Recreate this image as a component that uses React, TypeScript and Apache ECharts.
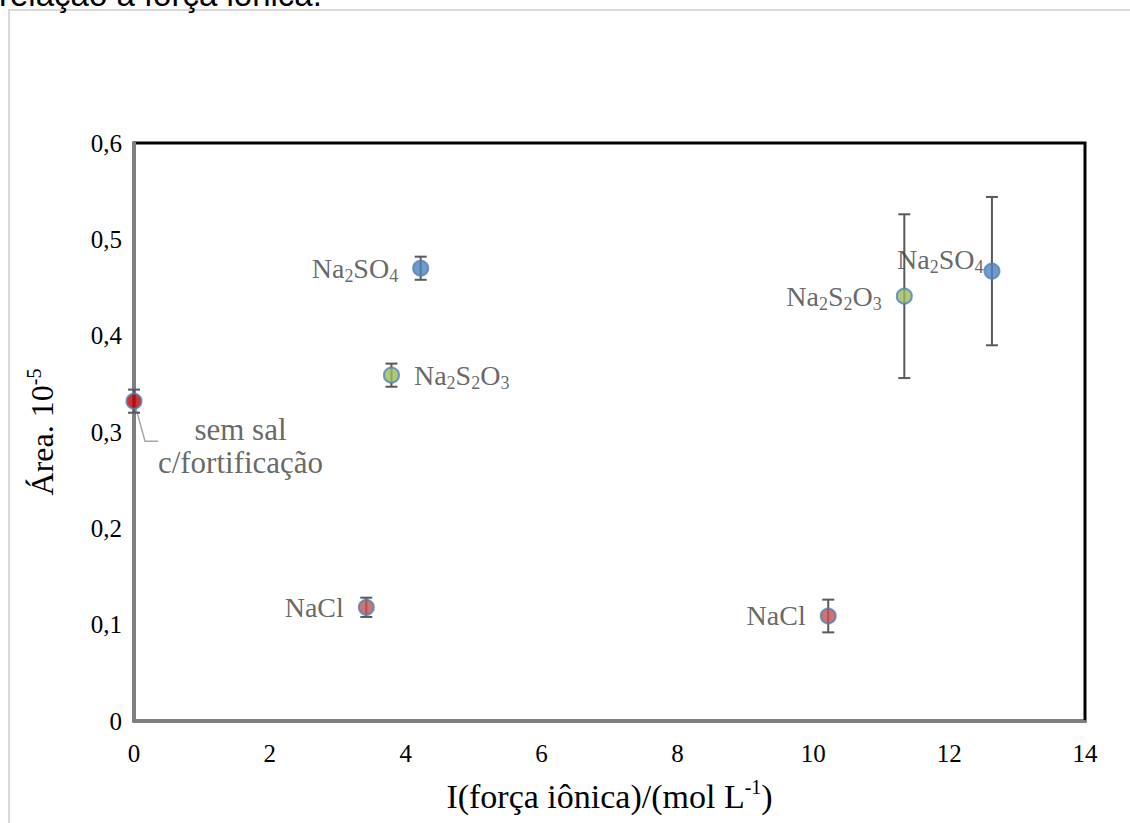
import React, { useEffect, useRef } from "react";
import * as echarts from "echarts";

const xTicks = [0, 2, 4, 6, 8, 10, 12, 14];
const yTicks = [0, 0.1, 0.2, 0.3, 0.4, 0.5, 0.6];

// [ionic strength, area, error]
const semSal = [[0, 0.332, 0.012]];
const naclPts = [[3.42, 0.118, 0.01], [10.22, 0.109, 0.017]];
const so4Pts = [[4.22, 0.47, 0.012], [12.63, 0.467, 0.077]];
const s2o3Pts = [[3.79, 0.359, 0.012], [11.34, 0.441, 0.085]];

const naclLabels = ["NaCl", "NaCl"];
const so4Labels = ["Na{s|2}SO{s|4}", "Na{s|2}SO{s|4}"];
const s2o3Labels = ["Na{s|2}S{s|2}O{s|3}", "Na{s|2}S{s|2}O{s|3}"];
const semSalLabel = "sem sal\nc/fortificação";

const serif = "Liberation Serif";
const labelColor = "#404040";
const axisTextColor = "#000";

const richSub = {
  s: { fontSize: 18, lineHeight: 16, verticalAlign: "bottom", fontFamily: serif, color: labelColor },
};

function labelFor(text: string, position: string, extra: any = {}) {
  return {
    show: true,
    position,
    distance: 14,
    formatter: text,
    fontSize: 28,
    lineHeight: 34,
    fontFamily: serif,
    color: labelColor,
    rich: richSub,
    ...extra,
  };
}

export default function App() {
  const ref = useRef<HTMLDivElement>(null);
  useEffect(() => {
    const chart = echarts.init(ref.current!, null, { renderer: "svg" });
    const allPts = [...semSal, ...naclPts, ...so4Pts, ...s2o3Pts];
    const errorSeries = {
      type: "custom",
      z: 2,
      silent: true,
      data: allPts,
      renderItem: (params: any, api: any) => {
        const x = api.value(0);
        const y = api.value(1);
        const e = api.value(2);
        const top = api.coord([x, y + e]);
        const bot = api.coord([x, y - e]);
        const w = 6;
        const st = { stroke: "#595959", lineWidth: 2 };
        return {
          type: "group",
          children: [
            { type: "line", shape: { x1: top[0], y1: top[1], x2: bot[0], y2: bot[1] }, style: st },
            { type: "line", shape: { x1: top[0] - w, y1: top[1], x2: top[0] + w, y2: top[1] }, style: st },
            { type: "line", shape: { x1: bot[0] - w, y1: bot[1], x2: bot[0] + w, y2: bot[1] }, style: st },
          ],
        };
      },
    };
    const leaderSeries = {
      type: "custom",
      z: 1,
      silent: true,
      data: semSal,
      renderItem: (params: any, api: any) => {
        const p = api.coord([api.value(0), api.value(1)]);
        return {
          type: "polyline",
          shape: { points: [[p[0], p[1]], [p[0] + 11, p[1] + 40], [p[0] + 24, p[1] + 40]] },
          style: { stroke: "#a6a6a6", lineWidth: 1.5, fill: "none" },
        };
      },
    };
    const markerBase = { type: "scatter", symbol: "circle", symbolSize: 15, z: 5 };
    const axisNameRich = {
      sup: { fontSize: 20, lineHeight: 18, verticalAlign: "top", fontFamily: serif, color: axisTextColor },
    };
    const option: any = {
      animation: false,
      graphic: [
        { type: "rect", shape: { x: 8, y: 9, width: 1130, height: 2 }, style: { fill: "#d9d9d9" } },
        { type: "rect", shape: { x: 8, y: 9, width: 2, height: 820 }, style: { fill: "#d9d9d9" } },
        {
          type: "text",
          x: -1,
          y: 11,
          style: {
            text: "relação à força iônica.",
            font: "33px Liberation Sans",
            fill: "#000",
            textVerticalAlign: "bottom",
          },
        },
      ],
      grid: {
        left: 134,
        right: 45,
        top: 143,
        bottom: 102,
        show: true,
        borderColor: "#000",
        borderWidth: 3,
        backgroundColor: "#fff",
      },
      xAxis: {
        type: "value",
        min: xTicks[0],
        max: xTicks[xTicks.length - 1],
        interval: 2,
        splitLine: { show: false },
        axisTick: { show: false },
        axisLine: { show: true, lineStyle: { color: "#7f7f7f", width: 3 } },
        axisLabel: { fontFamily: serif, fontSize: 25, color: axisTextColor, margin: 20 },
        name: "I(força iônica)/(mol L{sup|-1})",
        nameLocation: "middle",
        nameGap: 56,
        nameMoveOverlap: false,
        nameTextStyle: {
          fontFamily: serif,
          fontSize: 34,
          color: axisTextColor,
          lineHeight: 38,
          rich: axisNameRich,
        },
      },
      yAxis: {
        type: "value",
        min: yTicks[0],
        max: yTicks[yTicks.length - 1],
        interval: 0.1,
        splitLine: { show: false },
        axisTick: { show: false },
        axisLine: { show: true, lineStyle: { color: "#7f7f7f", width: 3 } },
        axisLabel: {
          fontFamily: serif,
          fontSize: 25,
          color: axisTextColor,
          margin: 12,
          formatter: (v: number) => (v === 0 ? "0" : v.toFixed(1).replace(".", ",")),
        },
        name: "Área. 10{sup|-5}",
        nameLocation: "middle",
        nameGap: 74,
        nameMoveOverlap: false,
        nameRotate: 90,
        nameTextStyle: {
          fontFamily: serif,
          fontSize: 32,
          color: axisTextColor,
          lineHeight: 36,
          rich: axisNameRich,
        },
      },
      series: [
        leaderSeries,
        errorSeries,
        {
          ...markerBase,
          name: "sem sal",
          data: semSal.map((p) => ({
            value: [p[0], p[1]],
            label: labelFor(semSalLabel, "right", {
              offset: [84, 45],
              align: "center",
              lineHeight: 33,
              fontSize: 31,
            }),
          })),
          itemStyle: { color: "#C00000", borderColor: "#4F81BD", borderWidth: 2 },
        },
        {
          ...markerBase,
          name: "NaCl",
          data: naclPts.map((p, i) => ({ value: [p[0], p[1]], label: labelFor(naclLabels[i], "left") })),
          itemStyle: { color: "#C0504D", borderColor: "#4F81BD", borderWidth: 2 },
        },
        {
          ...markerBase,
          name: "Na2SO4",
          data: so4Pts.map((p, i) => ({
            value: [p[0], p[1]],
            label:
              i === 0
                ? labelFor(so4Labels[i], "left")
                : labelFor(so4Labels[i], "left", { distance: 0, offset: [0, -12] }),
          })),
          itemStyle: { color: "#4F81BD", borderColor: "#4F81BD", borderWidth: 2 },
        },
        {
          ...markerBase,
          name: "Na2S2O3",
          data: s2o3Pts.map((p, i) => ({
            value: [p[0], p[1]],
            label: labelFor(s2o3Labels[i], i === 0 ? "right" : "left"),
          })),
          itemStyle: { color: "#9BBB59", borderColor: "#4F81BD", borderWidth: 2 },
        },
      ],
    };
    chart.setOption(option);
    return () => chart.dispose();
  }, []);
  return (
    <div
      ref={ref}
      style={{ position: "fixed", left: 0, top: 0, width: 1130, height: 823, background: "#fff" }}
    />
  );
}
